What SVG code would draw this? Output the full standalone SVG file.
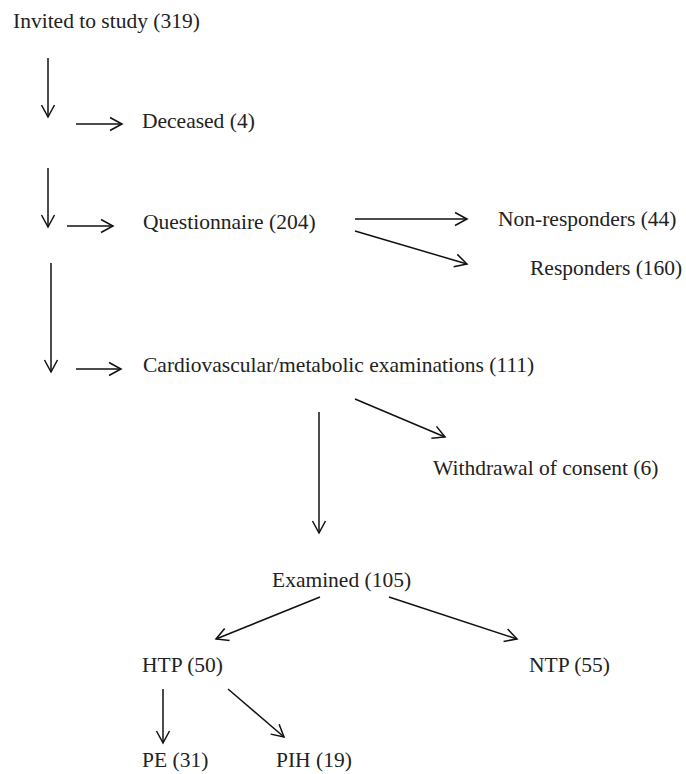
<svg xmlns="http://www.w3.org/2000/svg" width="686" height="774" viewBox="0 0 686 774">
<style>
text{font-family:"Liberation Serif","Times New Roman",serif;font-size:21.5px;fill:#222}
.c line{stroke:#111;stroke-width:1.5;marker-end:url(#ah)}
</style>
<defs>
<marker id="ah" markerUnits="userSpaceOnUse" viewBox="-14 -8 16 16" markerWidth="16" markerHeight="16" refX="0" refY="0" orient="auto">
<path d="M-12,-6.5 L0,0 L-12,6.5" fill="none" stroke="#111" stroke-width="1.5"/>
</marker>
</defs>
<rect width="686" height="774" fill="#fff"/>
<g class="c" id="connectors">
<line x1="48" y1="58" x2="48" y2="117"/>
<line x1="76" y1="124" x2="122" y2="124"/>
<line x1="48" y1="168" x2="48" y2="227"/>
<line x1="67" y1="226" x2="113" y2="226"/>
<line x1="355" y1="219" x2="467" y2="219"/>
<line x1="355" y1="231" x2="467" y2="264"/>
<line x1="51" y1="263" x2="51" y2="372"/>
<line x1="76" y1="369" x2="121" y2="369"/>
<line x1="355" y1="399" x2="445" y2="437"/>
<line x1="319" y1="412" x2="319" y2="533"/>
<line x1="320" y1="597" x2="216" y2="639"/>
<line x1="389" y1="597" x2="517" y2="639"/>
<line x1="163" y1="689" x2="163" y2="743"/>
<line x1="228" y1="689" x2="284" y2="737"/>
</g>
<g id="invited"><text x="13" y="28">Invited to study (319)</text></g>
<g id="deceased"><text x="142" y="128">Deceased (4)</text></g>
<g id="questionnaire"><text x="143" y="229">Questionnaire (204)</text></g>
<g id="nonresponders"><text x="498" y="226">Non-responders (44)</text></g>
<g id="responders"><text x="530" y="275">Responders (160)</text></g>
<g id="cardio"><text x="143" y="372">Cardiovascular/metabolic examinations (111)</text></g>
<g id="withdrawal"><text x="433" y="475">Withdrawal of consent (6)</text></g>
<g id="examined"><text x="272" y="587">Examined (105)</text></g>
<g id="htp"><text x="142" y="672">HTP (50)</text></g>
<g id="ntp"><text x="529" y="672">NTP (55)</text></g>
<g id="pe"><text x="142" y="767">PE (31)</text></g>
<g id="pih"><text x="276" y="767">PIH (19)</text></g>
</svg>
